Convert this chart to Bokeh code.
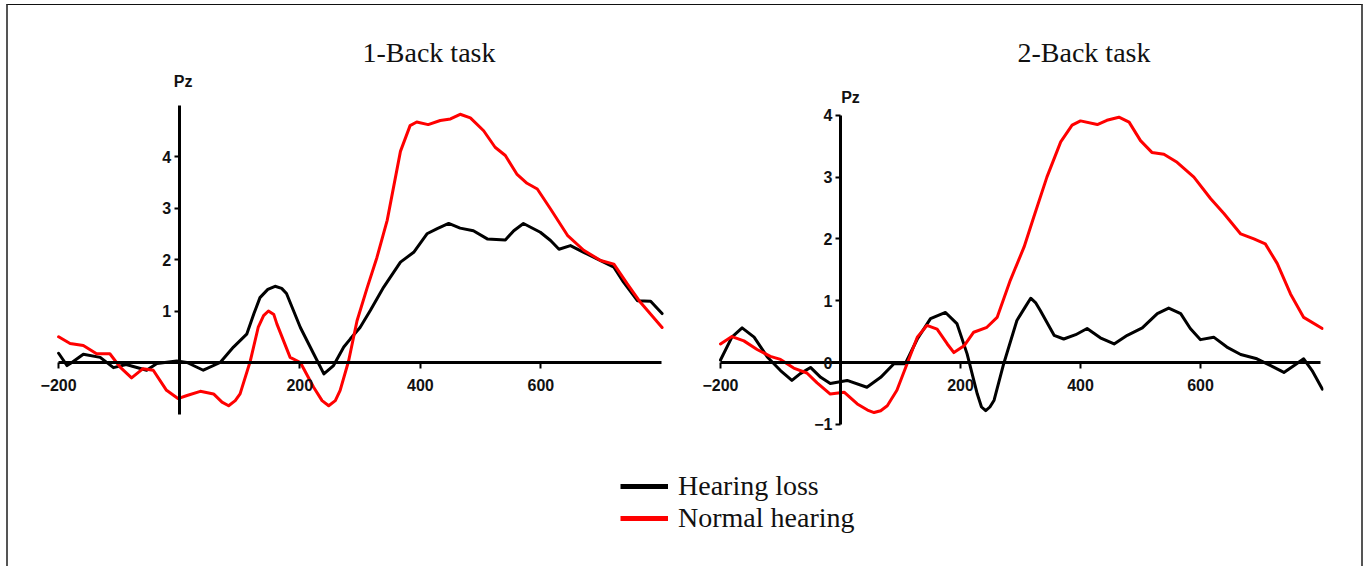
from bokeh.plotting import figure
from bokeh.layouts import column, row
from bokeh.models import Range1d, FixedTicker, Label, Legend, LegendItem
from bokeh.embed import file_html
from bokeh.resources import INLINE

# ---------------- data ----------------
titles = ["1-Back task", "2-Back task"]
series_names = ["Hearing loss", "Normal hearing"]
channel = "Pz"

x_ticks = [-200, 200, 400, 600]
y_ticks_1 = [1, 2, 3, 4]
y_ticks_2 = [-1, 0, 1, 2, 3, 4]

# 1-Back task, Hearing loss
t1_hl = [-200, -186, -178, -159, -131, -109, -88, -54, -37, -4, 13, 40, 68, 90, 112, 124, 134, 147, 159, 170, 178,
         201, 223, 240, 256, 273, 284, 300, 317, 339, 367, 389, 411, 428, 447, 466, 488, 511, 541, 555, 571,
         599, 616, 630, 649, 671, 699, 721, 737, 760, 782, 801]
v1_hl = [0.18, -0.06, 0.0, 0.16, 0.1, -0.1, -0.04, -0.15, -0.02, 0.03, 0.0, -0.15, 0.0, 0.3, 0.55, 0.95, 1.26, 1.42, 1.48, 1.44, 1.34,
         0.68, 0.17, -0.22, -0.06, 0.3, 0.46, 0.68, 1.01, 1.46, 1.95, 2.14, 2.5, 2.6, 2.7, 2.61, 2.56, 2.4, 2.38, 2.56, 2.7,
         2.53, 2.37, 2.2, 2.27, 2.14, 1.98, 1.85, 1.56, 1.2, 1.19, 0.95]

# 1-Back task, Normal hearing
t1_nh = [-200, -181, -159, -137, -115, -98, -79, -60, -43, -21, -2, 13, 35, 57, 71, 82, 93, 101, 118, 131, 140, 148, 157, 162,
         184, 201, 223, 237, 248, 259, 267, 281, 295, 312, 328, 345, 367, 383, 394, 413, 433, 450, 466, 483, 505, 524,
         541, 560, 577, 594, 616, 644, 671, 699, 721, 743, 765, 801]
v1_nh = [0.5, 0.37, 0.33, 0.17, 0.17, -0.09, -0.3, -0.12, -0.15, -0.54, -0.7, -0.64, -0.56, -0.61, -0.77, -0.84, -0.74, -0.61, 0.03, 0.68, 0.91, 1.0, 0.93, 0.75,
         0.1, 0.0, -0.48, -0.74, -0.84, -0.74, -0.54, 0.03, 0.81, 1.46, 2.04, 2.76, 4.1, 4.6, 4.67, 4.62, 4.7, 4.73, 4.82, 4.75, 4.5, 4.18,
         4.02, 3.66, 3.48, 3.37, 2.98, 2.47, 2.18, 1.98, 1.91, 1.53, 1.17, 0.68]

# 2-Back task, Hearing loss
t2_hl = [-200, -181, -164, -144, -122, -100, -81, -67, -50, -33, -17, 11, 44, 67, 89, 108, 128, 150, 175, 194,
         211, 228, 235, 242, 249, 256, 272, 294, 308, 317, 325, 333, 356, 372, 392, 411, 433, 456, 478, 503, 528, 547, 567, 583,
         600, 622, 644, 667, 694, 717, 739, 756, 772, 786, 803]
v2_hl = [0.04, 0.41, 0.56, 0.41, 0.09, -0.13, -0.29, -0.18, -0.08, -0.24, -0.34, -0.29, -0.4, -0.24, -0.02, -0.02, 0.38, 0.71, 0.81, 0.63,
         0.14, -0.51, -0.72, -0.78, -0.72, -0.61, -0.02, 0.68, 0.9, 1.04, 0.97, 0.84, 0.44, 0.38, 0.45, 0.55, 0.4, 0.3, 0.44, 0.56, 0.79, 0.88, 0.79, 0.55,
         0.37, 0.41, 0.25, 0.13, 0.06, -0.05, -0.16, -0.05, 0.06, -0.13, -0.43]

# 2-Back task, Normal hearing
t2_nh = [-200, -181, -161, -139, -117, -100, -78, -56, -39, -17, 6, 28, 45, 56, 67, 78, 94, 111, 128, 144, 161, 178,
         189, 206, 222, 244, 261, 283, 306, 322, 344, 367, 386, 400, 428, 444, 464, 481, 500, 519, 539, 561,
         589, 617, 639, 667, 689, 708, 728, 750, 772, 803]
v2_nh = [0.3, 0.42, 0.35, 0.21, 0.1, 0.05, -0.09, -0.17, -0.33, -0.51, -0.48, -0.67, -0.77, -0.81, -0.78, -0.7, -0.45, -0.02, 0.41, 0.6, 0.54, 0.3,
         0.16, 0.27, 0.49, 0.57, 0.73, 1.33, 1.87, 2.35, 3.0, 3.57, 3.84, 3.91, 3.85, 3.92, 3.97, 3.89, 3.59, 3.4, 3.37, 3.24,
         3.0, 2.65, 2.41, 2.08, 2.0, 1.92, 1.6, 1.11, 0.73, 0.55]

colors = ["#000000", "#ff0000"]

LABEL_FONT = "Liberation Sans"
SERIF = "Liberation Serif"
TOP_H = 463


def make_panel(title, width, mb_left, mb_right, y_range, y_bounds, y_ticks, series, pz_y, pz_dx, title_offset):
    p = figure(width=width, height=TOP_H, x_range=Range1d(-240, 805), y_range=Range1d(*y_range),
               output_backend="svg", toolbar_location=None,
               min_border_left=mb_left, min_border_right=mb_right, min_border_top=61, min_border_bottom=34)
    p.outline_line_color = None
    p.grid.visible = False
    p.background_fill_color = "white"
    p.border_fill_color = "white"

    p.title.text = title
    p.title.text_font = SERIF
    p.title.text_font_size = "28px"
    p.title.text_font_style = "normal"
    p.title.text_color = "#111111"
    p.title.align = "left"
    p.title.offset = title_offset
    p.title.standoff = -3

    for ax in (p.xaxis[0], p.yaxis[0]):
        ax.fixed_location = 0
        ax.axis_line_width = 3
        ax.axis_line_color = "black"
        ax.major_tick_line_width = 2
        ax.major_tick_line_color = "black"
        ax.major_tick_in = 0
        ax.minor_tick_in = 0
        ax.minor_tick_out = 0
        ax.major_label_text_font = LABEL_FONT
        ax.major_label_text_font_style = "bold"
        ax.major_label_text_font_size = "16px"
        ax.major_label_text_color = "#111111"
    p.xaxis.ticker = FixedTicker(ticks=x_ticks)
    p.xaxis.bounds = (-200, 800)
    p.xaxis.major_tick_out = 6
    p.xaxis.major_label_standoff = 10
    p.yaxis.ticker = FixedTicker(ticks=y_ticks)
    p.yaxis.bounds = y_bounds
    p.yaxis.major_tick_out = 5
    p.yaxis.major_label_standoff = 3

    for (t, v), c in zip(series, colors):
        p.line(t, v, line_color=c, line_width=3, line_join="round", line_cap="round")

    p.add_layout(Label(x=0, y=pz_y, x_offset=pz_dx, text=channel, text_align="center", text_baseline="middle",
                       text_font=LABEL_FONT, text_font_style="bold", text_font_size="16px", text_color="#111111"))
    return p


p1 = make_panel(titles[0], 663, 26, 7, (-1.398, 5.748), (-1, 5), y_ticks_1,
                [(t1_hl, v1_hl), (t1_nh, v1_nh)], 5.45, 4, 328)
p2 = make_panel(titles[1], 690, 25, 38, (-1.165, 4.79), (-1, 4), y_ticks_2,
                [(t2_hl, v2_hl), (t2_nh, v2_nh)], 4.29, 10, 321)

p3 = figure(width=1353, height=98, x_range=Range1d(0, 1), y_range=Range1d(0, 1),
            output_backend="svg", toolbar_location=None,
            min_border=0, x_axis_location=None, y_axis_location=None)
p3.outline_line_color = None
p3.grid.visible = False
items = []
for name, c in zip(series_names, colors):
    # the renderer only provides the legend swatch; its point lies outside the visible range
    r = p3.line(x=[-5, -4], y=[-5, -5], line_color=c, line_width=5)
    items.append(LegendItem(label=name, renderers=[r]))
legend = Legend(items=items, location=(612, 32), padding=0, margin=0, spacing=0,
                glyph_width=48, glyph_height=30, label_height=30, label_standoff=10,
                label_text_font=SERIF, label_text_font_size="28px", label_text_color="#111111",
                border_line_color=None, background_fill_alpha=0)
p3.add_layout(legend, "center")

layout = column(row(p1, p2), p3,
                styles={"margin-left": "6px", "margin-top": "4px",
                        "border-top": "1px solid #111", "border-left": "2px solid #555",
                        "border-right": "2px solid #555"})

open("out.html", "w").write(file_html(layout, INLINE))
